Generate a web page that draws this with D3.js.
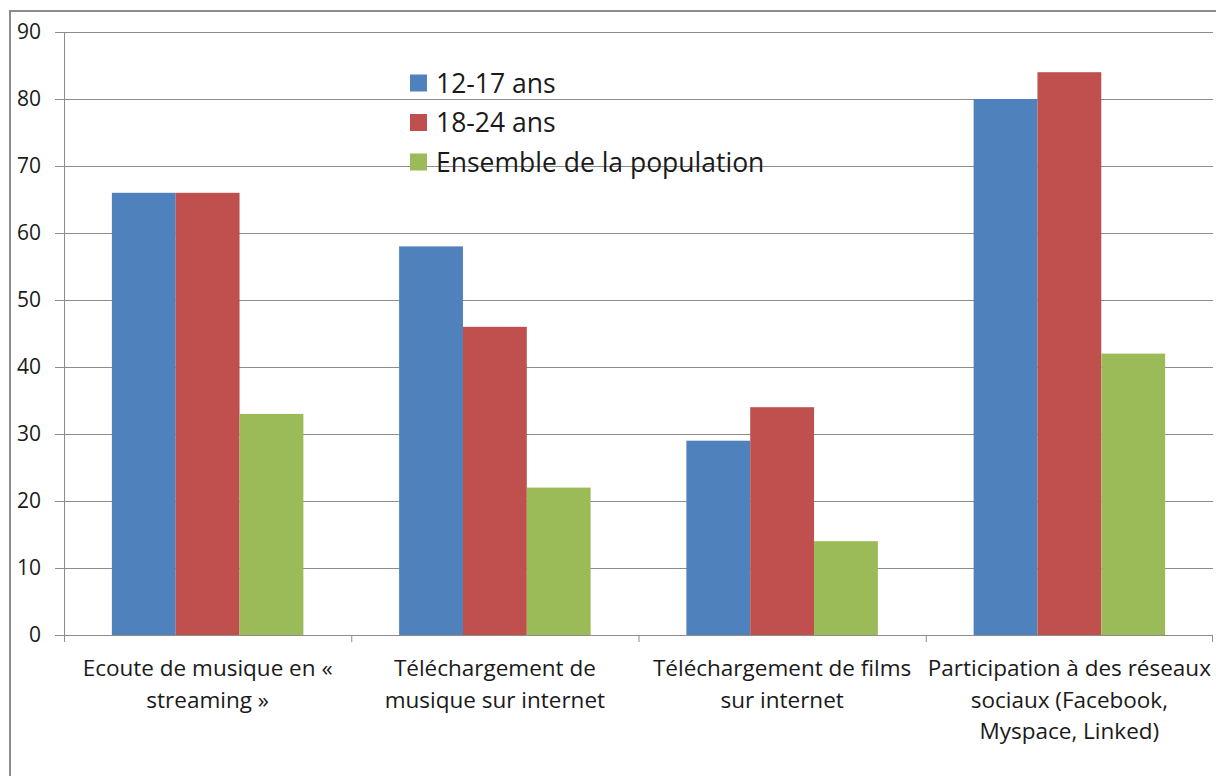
<!DOCTYPE html>
<meta charset="utf-8">
<style>
body { margin: 0; background: #fff; }
text { font-family: "Open Sans", Lato, sans-serif; fill: #1a1a1a; }
</style>
<svg width="1216" height="776"></svg>
<script src="https://d3js.org/d3.v7.min.js"></script>
<script>
// data
var categories = [
  "Ecoute de musique en «\nstreaming »",
  "Téléchargement de\nmusique sur internet",
  "Téléchargement de films\nsur internet",
  "Participation à des réseaux\nsociaux (Facebook,\nMyspace, Linked)"
];
var seriesNames = ["12-17 ans", "18-24 ans", "Ensemble de la population"];
var s1217 = [66, 58, 29, 80];
var s1824 = [66, 46, 34, 84];
var sAll = [33, 22, 14, 42];
var yTicks = [0, 10, 20, 30, 40, 50, 60, 70, 80, 90];
var colors = ["#4f81bd", "#c0504d", "#9bbb59"];

var seriesValues = [s1217, s1824, sAll];

var svg = d3.select("svg"),
    margin = {top: 32, right: 3, bottom: 141, left: 64},
    width = +svg.attr("width") - margin.left - margin.right,
    height = +svg.attr("height") - margin.top - margin.bottom;

// outer chart frame
svg.append("rect")
    .attr("x", 10).attr("y", 11)
    .attr("width", 1220).attr("height", 800)
    .attr("fill", "none")
    .attr("stroke", "#8c8c8c")
    .attr("stroke-width", 2);

var g = svg.append("g").attr("transform", "translate(" + margin.left + "," + margin.top + ")");

var x = d3.scaleBand()
    .domain(d3.range(categories.length))
    .range([0, width])
    .paddingInner(0)
    .paddingOuter(0);

var x1 = d3.scaleBand()
    .domain(d3.range(seriesNames.length))
    .range([0, x.bandwidth()])
    .paddingOuter(0.75)
    .paddingInner(0);

var y = d3.scaleLinear()
    .domain([0, 90])
    .range([height, 0]);

// gridlines
g.append("g")
  .selectAll("line")
  .data(yTicks.slice(1))
  .enter().append("line")
    .attr("x1", 0).attr("x2", width)
    .attr("y1", function(d) { return y(d) + 0.5; })
    .attr("y2", function(d) { return y(d) + 0.5; })
    .attr("stroke", "#8c8c8c");

// bars
var groups = g.append("g")
  .selectAll("g")
  .data(categories)
  .enter().append("g")
    .attr("transform", function(d, i) { return "translate(" + x(i) + ",0)"; });

groups.selectAll("rect")
  .data(function(d, i) { return seriesValues.map(function(s, k) { return {k: k, v: s[i]}; }); })
  .enter().append("rect")
    .attr("x", function(d) { return x1(d.k); })
    .attr("y", function(d) { return y(d.v); })
    .attr("width", x1.bandwidth())
    .attr("height", function(d) { return y(0) - y(d.v); })
    .attr("fill", function(d) { return colors[d.k]; });

// y axis
var yAxis = g.append("g")
    .call(d3.axisLeft(y).tickValues(yTicks).tickSize(9).tickPadding(14));
yAxis.select(".domain").attr("stroke", "#8c8c8c").attr("d", "M0.5,0V" + height);
yAxis.selectAll(".tick line").attr("stroke", "#8c8c8c");
yAxis.selectAll(".tick text")
    .attr("font-size", 21)
    .attr("font-family", "'Open Sans', sans-serif")
    .attr("fill", "#1a1a1a");

// x axis
var xAxis = g.append("g")
    .attr("transform", "translate(0," + height + ")");
xAxis.append("line")
    .attr("x1", 0).attr("x2", width)
    .attr("y1", 0.5).attr("y2", 0.5)
    .attr("stroke", "#8c8c8c");
xAxis.selectAll(".sep")
  .data(d3.range(categories.length + 1))
  .enter().append("line")
    .attr("class", "sep")
    .attr("x1", function(d) { return d < categories.length ? x(d) + 0.5 : width - 0.5; })
    .attr("x2", function(d) { return d < categories.length ? x(d) + 0.5 : width - 0.5; })
    .attr("y1", 0).attr("y2", 7)
    .attr("stroke", "#8c8c8c");

var labels = xAxis.selectAll(".lab")
  .data(categories)
  .enter().append("text")
    .attr("class", "lab")
    .attr("text-anchor", "middle")
    .attr("font-size", 22.5)
    .attr("x", function(d, i) { return x(i) + x.bandwidth() / 2; });

labels.selectAll("tspan")
  .data(function(d) { return d.split("\n"); })
  .enter().append("tspan")
    .attr("x", function() { return d3.select(this.parentNode).attr("x"); })
    .attr("y", function(d, i) { return 41 + i * 31.5; })
    .text(function(d) { return d; });

// legend
var legend = svg.append("g")
  .selectAll("g")
  .data(seriesNames)
  .enter().append("g")
    .attr("transform", function(d, i) { return "translate(410," + (83 + i * 39.5) + ")"; });

legend.append("rect")
    .attr("x", 0).attr("y", -8.5)
    .attr("width", 17).attr("height", 17)
    .attr("fill", function(d, i) { return colors[i]; });

legend.append("text")
    .attr("x", 26)
    .attr("dy", "0.36em")
    .attr("font-size", 26.5)
    .text(function(d) { return d; });
</script>
